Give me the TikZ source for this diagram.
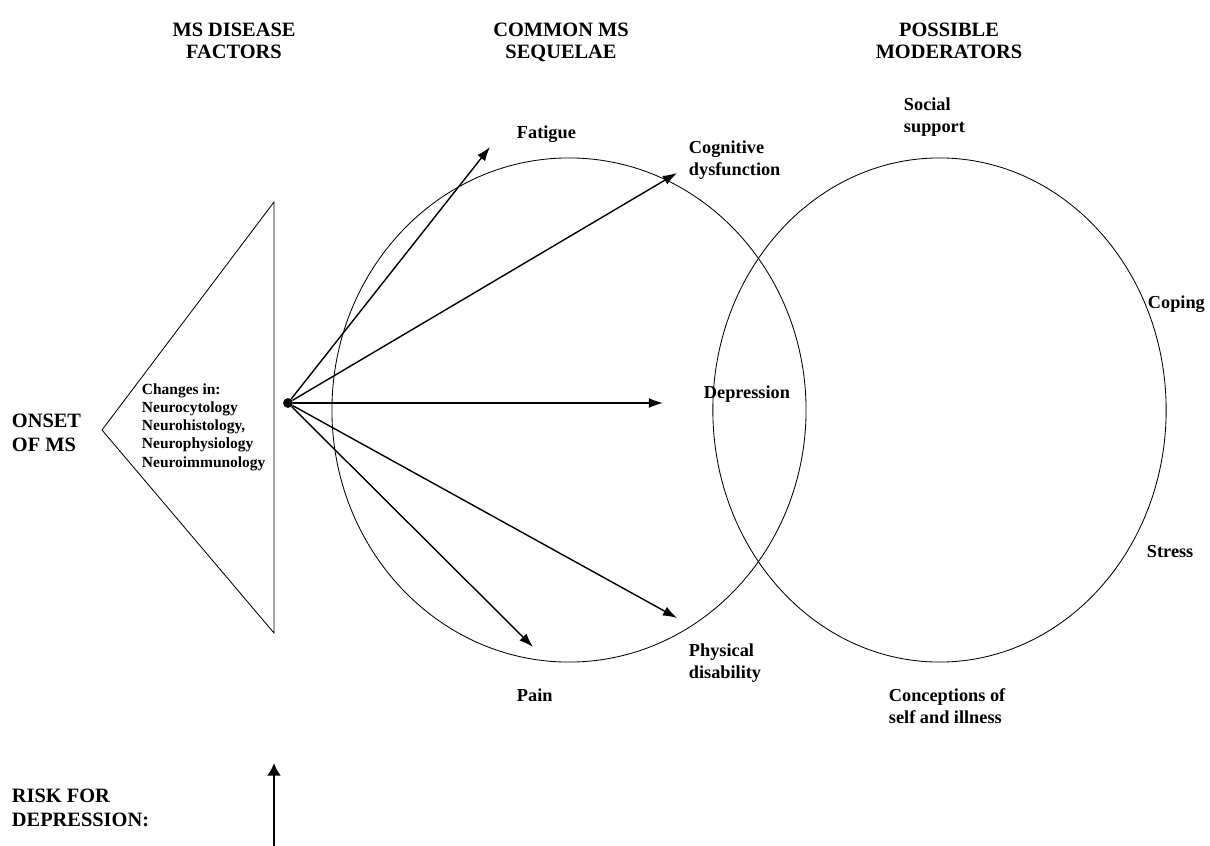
\documentclass[tikz,border=0pt]{standalone}
\usepackage{fontspec}
\setmainfont{Liberation Serif}
\usepackage{tikz}
\usetikzlibrary{arrows.meta,calc,positioning,shapes.geometric}
\tikzset{%
	heading/.style  = {font=\fontsize{14.5}{16}\selectfont\bfseries, align=center, anchor=north},
	sidetext/.style = {font=\fontsize{14.5}{17}\selectfont\bfseries, align=left, anchor=west}, % Left column
	outcome/.style  = {font=\fontsize{13}{16}\selectfont\bfseries, align=left, anchor=west},
	factors/.style  = {font=\fontsize{11}{13}\selectfont\bfseries, align=left, anchor=west},
	field/.style    = {draw, ellipse, line width=0.6pt, inner sep=0pt}, % Circle
	source/.style   = {circle, fill, inner sep=0pt, minimum size=7pt}, % Dot
	arrow/.style    = {line width=1pt, -{Latex[length=10pt,width=7pt]}},
	riskarrow/.style= {line width=2pt, -{Latex[length=9pt,width=10pt]}},
}

\begin{document}
\begin{tikzpicture}[x=0.025cm,y=-0.025cm]
	\useasboundingbox (0,0) rectangle (1210,846);
	\node [heading] (hdis) at (234,18) {MS DISEASE\\FACTORS};
	\node [heading] (hseq) at (561,18) {COMMON MS\\SEQUELAE};
	\node [heading] (hmod) at (949,18) {POSSIBLE\\MODERATORS};
	
	\node [sidetext] (onset) at (7,433) {ONSET\\OF MS};
	\node [sidetext] (risk) at (7,808) {RISK FOR\\DEPRESSION:};
	
	\draw [line width=0.6pt] (274,202) -- (102,430) -- (274,633) -- cycle;
	\node [factors] (changes) at (137,427) {Changes in:\\Neurocytology\\Neurohistology,\\Neurophysiology\\Neuroimmunology};
	
	\node [field,minimum width=11.85cm,minimum height=12.6cm] (sequelae) at (569,410) {};
	\node [field,minimum width=11.33cm,minimum height=12.6cm] (moderators) at (939.5,410) {};
	
	\node [source] (src) at (288,403) {};
	\coordinate (tfat) at (490,147);
	\coordinate (tcog) at (677,173);
	\coordinate (tdep) at (663,403);
	\coordinate (tphy) at (677,618);
	\coordinate (tpain) at (533,647);
	
	\node [outcome] (fatigue) at (512,134) {Fatigue};
	\node [outcome] (cognitive) at (684,160) {Cognitive\\dysfunction};
	\node [outcome] (depression) at (699,394) {Depression};
	\node [outcome] (physical) at (684,663) {Physical\\disability};
	\node [outcome] (pain) at (512,695) {Pain};
	
	\node [outcome] (social) at (899,117) {Social\\support};
	\node [outcome] (coping) at (1143,304) {Coping};
	\node [outcome] (stress) at (1142,552) {Stress};
	\node [outcome] (conceptions) at (884,706) {Conceptions of\\self and illness};
	
	\draw[arrow] (src) -- (tfat);
	\draw[arrow] (src) -- (tcog);
	\draw[arrow] (src) -- (tdep);
	\draw[arrow] (src) -- (tphy);
	\draw[arrow] (src) -- (tpain);
	
	\coordinate (rbase) at (274,846);
	\coordinate (rtip) at (274,763);
	\draw[riskarrow] (rbase) -- (rtip);
\end{tikzpicture}
\end{document}
